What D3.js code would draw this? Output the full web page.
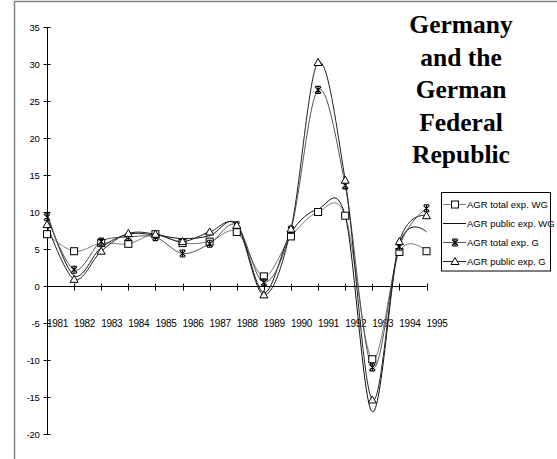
<!DOCTYPE html>
<html>
<head>
<meta charset="utf-8">
<script src="https://cdn.jsdelivr.net/npm/d3@7"></script>
<style>
  html, body { margin: 0; padding: 0; background: #fff; }
  svg { display: block; }
  .sans { font-family: "Liberation Sans", Arial, sans-serif; }
  .serif { font-family: "Liberation Serif", "Times New Roman", Times, "DejaVu Serif", serif; font-weight: bold; }
</style>
</head>
<body>
<svg id="chart" width="557" height="459"></svg>
<script>
// Annual growth rates, 1981-1995
const years = [1981, 1982, 1983, 1984, 1985, 1986, 1987, 1988, 1989, 1990, 1991, 1992, 1993, 1994, 1995];
const totalExpWG  = [7.0, 4.7, 5.8, 5.7, 7.0, 5.8, 6.0, 7.3, 1.3, 6.7, 10.0, 9.5, -9.9, 4.6, 4.7];
const publicExpWG = [9.8, 1.4, 5.2, 7.0, 6.9, 6.4, 6.8, 8.4, -0.9, 7.2, 10.4, 9.5, -17.0, 5.6, 7.3];
const totalExpG   = [9.3, 2.2, 6.0, 6.6, 6.6, 4.4, 5.7, 8.2, 0.5, 7.6, 26.5, 13.6, -11.0, 5.3, 10.5];
const publicExpG  = [8.3, 0.9, 4.7, 7.1, 7.0, 6.0, 7.3, 8.2, -1.2, 7.7, 30.2, 14.3, -15.4, 6.0, 9.5];
const yTicks = [35, 30, 25, 20, 15, 10, 5, 0, -5, -10, -15, -20];
const titleLines = ["Germany", "and the", "German", "Federal", "Republic"];

const series = [
  { name: "AGR total exp. WG",  values: totalExpWG,  marker: "square",   color: "#7a7a7a" },
  { name: "AGR public exp. WG", values: publicExpWG, marker: "none",     color: "#111" },
  { name: "AGR total exp. G",   values: totalExpG,   marker: "star",     color: "#555" },
  { name: "AGR public exp. G",  values: publicExpG,  marker: "triangle", color: "#222" }
];

const svg = d3.select("#chart");

// outer frame
svg.append("path")
  .attr("d", "M14.5,459 L14.5,1.5 L557,1.5")
  .attr("fill", "none").attr("stroke", "#808080").attr("stroke-width", 1.5);

const x = d3.scalePoint().domain(years).range([47, 426.5]);
const y = d3.scaleLinear().domain([-20, 35]).range([434, 27]);

// y axis
const yAxis = svg.append("g").attr("transform", "translate(47.5,0)");
yAxis.append("line").attr("y1", y(35)).attr("y2", y(-20)).attr("stroke", "#000");
yAxis.selectAll("line.tick").data(yTicks).join("line")
  .attr("class", "tick")
  .attr("x1", -4).attr("x2", 3)
  .attr("y1", d => Math.round(y(d)) + 0.5).attr("y2", d => Math.round(y(d)) + 0.5)
  .attr("stroke", "#000");
yAxis.selectAll("text").data(yTicks).join("text")
  .attr("class", "sans")
  .attr("x", -8).attr("y", d => y(d) + 3.5)
  .attr("text-anchor", "end")
  .attr("font-size", 9.5)
  .attr("letter-spacing", -0.3)
  .text(d => d < 0 ? "-" + Math.abs(d) : d);

// x axis along zero
const y0 = Math.round(y(0)) + 0.5;
const xAxis = svg.append("g");
xAxis.append("line").attr("x1", 47).attr("x2", x(1995)).attr("y1", y0).attr("y2", y0).attr("stroke", "#000");
xAxis.selectAll("line.tick").data(years).join("line")
  .attr("class", "tick")
  .attr("x1", d => Math.round(x(d)) + 0.5).attr("x2", d => Math.round(x(d)) + 0.5)
  .attr("y1", y0 - 3).attr("y2", y0 + 4)
  .attr("stroke", "#000");
xAxis.selectAll("text").data(years).join("text")
  .attr("class", "sans")
  .attr("x", d => x(d) + 10.5).attr("y", y(-5) + 4)
  .attr("text-anchor", "middle")
  .attr("font-size", 10)
  .attr("letter-spacing", -0.3)
  .text(d => d);

// smoothed lines
const line = d3.line()
  .x((d, i) => x(years[i]))
  .y(d => y(d))
  .curve(d3.curveCardinal.tension(0));

const plot = svg.append("g");
series.forEach(s => {
  plot.append("path")
    .attr("d", line(s.values))
    .attr("fill", "none")
    .attr("stroke", s.color)
    .attr("stroke-width", 1);
});

function drawMarker(g, type, cx, cy) {
  if (type === "square") {
    g.append("rect").attr("x", cx - 3.5).attr("y", cy - 3.5).attr("width", 7).attr("height", 7)
      .attr("fill", "#fff").attr("stroke", "#000").attr("stroke-width", 1);
  } else if (type === "triangle") {
    g.append("path").attr("d", `M${cx},${cy - 4} L${cx + 4},${cy + 3} L${cx - 4},${cy + 3} Z`)
      .attr("fill", "#fff").attr("stroke", "#000").attr("stroke-width", 1);
  } else if (type === "star") {
    g.append("path")
      .attr("d", `M${cx - 3},${cy - 3} L${cx + 3},${cy + 3} M${cx + 3},${cy - 3} L${cx - 3},${cy + 3} M${cx},${cy - 3.5} L${cx},${cy + 3.5} M${cx - 2.5},${cy - 3.5} L${cx + 2.5},${cy - 3.5} M${cx - 2.5},${cy + 3.5} L${cx + 2.5},${cy + 3.5}`)
      .attr("fill", "none").attr("stroke", "#000").attr("stroke-width", 1.1);
  }
}

series.forEach(s => {
  if (s.marker === "none") return;
  const g = plot.append("g");
  s.values.forEach((v, i) => drawMarker(g, s.marker, x(years[i]), y(v)));
});

// title
svg.append("g").selectAll("text").data(titleLines).join("text")
  .attr("class", "serif")
  .attr("x", 461).attr("y", (d, i) => 33 + i * 32.5)
  .attr("text-anchor", "middle")
  .attr("font-size", 25.5)
  .text(d => d);

// legend
const legend = svg.append("g");
const rows = [204.5, 223.5, 242.5, 261.5];
series.forEach((s, i) => {
  const ly = rows[i];
  legend.append("line").attr("x1", 443).attr("x2", 466).attr("y1", ly).attr("y2", ly)
    .attr("stroke", s.color).attr("stroke-width", 1);
  drawMarker(legend, s.marker, 455, ly);
  legend.append("text")
    .attr("class", "sans")
    .attr("x", 467).attr("y", ly + 3.5)
    .attr("font-size", 9.5)
    .text(s.name);
});
legend.append("rect").attr("x", 441.5).attr("y", 192.5).attr("width", 109).attr("height", 78.5)
  .attr("fill", "none").attr("stroke", "#000").attr("stroke-width", 1);
</script>
</body>
</html>
